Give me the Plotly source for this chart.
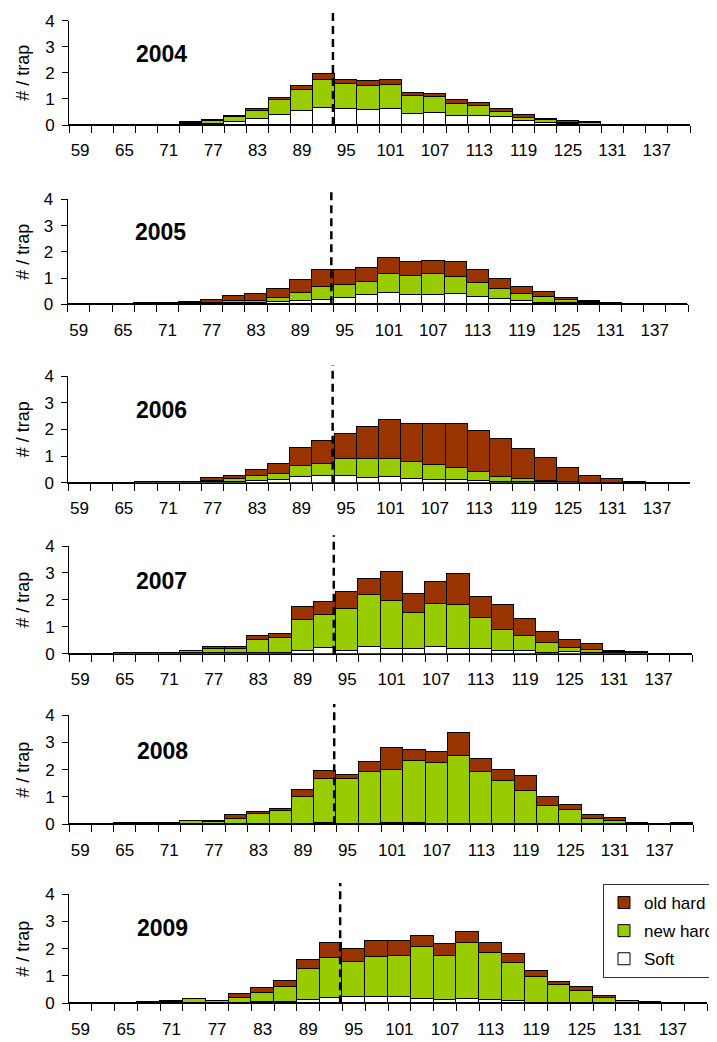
import plotly.graph_objects as go

# ---------------- data ----------------
sizes = [59, 62, 65, 68, 71, 74, 77, 80, 83, 86, 89, 92, 95, 98, 101, 104,
         107, 110, 113, 116, 119, 122, 125, 128, 131, 134, 137, 140]
tick_labels = ["59", "", "65", "", "71", "", "77", "", "83", "", "89", "", "95", "",
               "101", "", "107", "", "113", "", "119", "", "125", "", "131", "", "137", ""]
years = ["2004", "2005", "2006", "2007", "2008", "2009"]
cutoff_mm = 93.2

soft_2004 = [0, 0, 0.01, 0.01, 0.01, 0.04, 0.05, 0.13, 0.23, 0.38, 0.54, 0.68, 0.61, 0.58,
             0.63, 0.42, 0.47, 0.37, 0.37, 0.33, 0.17, 0.09, 0.05, 0.03, 0, 0, 0, 0]
new_2004 = [0, 0, 0.01, 0.01, 0.01, 0.05, 0.10, 0.19, 0.33, 0.58, 0.83, 1.07, 0.99, 0.93,
            0.93, 0.70, 0.60, 0.46, 0.37, 0.19, 0.12, 0.10, 0.05, 0.05, 0, 0, 0, 0]
old_2004 = [0, 0, 0.01, 0.01, 0.01, 0.04, 0.05, 0.03, 0.07, 0.09, 0.13, 0.21, 0.15, 0.18,
            0.17, 0.13, 0.12, 0.14, 0.13, 0.12, 0.11, 0.07, 0.05, 0.03, 0, 0, 0, 0]

soft_2005 = [0, 0, 0, 0.01, 0.01, 0.02, 0.02, 0.03, 0.04, 0.08, 0.10, 0.14, 0.24, 0.33,
             0.42, 0.36, 0.36, 0.37, 0.28, 0.19, 0.11, 0.04, 0.02, 0.02, 0.01, 0, 0, 0]
new_2005 = [0, 0, 0, 0.01, 0.01, 0.03, 0.03, 0.07, 0.09, 0.16, 0.31, 0.51, 0.50, 0.51,
            0.74, 0.71, 0.80, 0.66, 0.51, 0.37, 0.26, 0.23, 0.12, 0.04, 0.02, 0, 0, 0]
old_2005 = [0, 0, 0, 0.01, 0.01, 0.04, 0.11, 0.19, 0.26, 0.34, 0.49, 0.65, 0.56, 0.53,
            0.58, 0.53, 0.49, 0.57, 0.49, 0.38, 0.28, 0.19, 0.10, 0.04, 0.02, 0, 0, 0]

soft_2006 = [0, 0, 0, 0.01, 0.01, 0.01, 0.02, 0.03, 0.08, 0.10, 0.20, 0.25, 0.24, 0.19,
             0.23, 0.13, 0.11, 0.09, 0.06, 0.04, 0.02, 0.01, 0.01, 0, 0, 0, 0, 0]
new_2006 = [0, 0, 0, 0.01, 0.01, 0.01, 0.03, 0.11, 0.16, 0.21, 0.43, 0.44, 0.65, 0.70,
            0.67, 0.63, 0.57, 0.45, 0.34, 0.17, 0.12, 0.07, 0.02, 0, 0, 0, 0, 0]
old_2006 = [0, 0, 0, 0.01, 0.01, 0.01, 0.11, 0.11, 0.24, 0.39, 0.67, 0.86, 0.92, 1.20,
            1.46, 1.45, 1.53, 1.67, 1.54, 1.42, 1.11, 0.83, 0.52, 0.26, 0.14, 0.04, 0, 0]

soft_2007 = [0, 0, 0.01, 0.01, 0.01, 0.01, 0.02, 0.02, 0.03, 0.04, 0.10, 0.20, 0.10, 0.24,
             0.17, 0.17, 0.25, 0.16, 0.16, 0.11, 0.09, 0.02, 0.06, 0.02, 0.02, 0.01, 0, 0]
new_2007 = [0, 0, 0.01, 0.01, 0.01, 0.09, 0.14, 0.14, 0.49, 0.53, 1.15, 1.22, 1.56, 1.93,
            1.77, 1.35, 1.58, 1.64, 1.18, 0.77, 0.55, 0.39, 0.14, 0.13, 0.04, 0.02, 0, 0]
old_2007 = [0, 0, 0.01, 0.01, 0.01, 0.01, 0.09, 0.09, 0.14, 0.17, 0.47, 0.50, 0.62, 0.60,
            1.09, 0.68, 0.84, 1.16, 0.78, 0.92, 0.65, 0.38, 0.32, 0.22, 0.05, 0.02, 0, 0]

soft_2008 = [0, 0, 0.01, 0.01, 0.01, 0.01, 0.01, 0.01, 0.01, 0.01, 0.01, 0.06, 0.01, 0.02,
             0.03, 0.03, 0.01, 0.01, 0.01, 0.01, 0.01, 0.01, 0.01, 0.01, 0.02, 0.01, 0, 0.01]
new_2008 = [0, 0, 0.01, 0.01, 0.01, 0.11, 0.08, 0.20, 0.38, 0.48, 0.98, 1.59, 1.66, 1.88,
            1.95, 2.29, 2.22, 2.48, 1.90, 1.59, 1.21, 0.66, 0.50, 0.19, 0.11, 0.02, 0, 0.02]
old_2008 = [0, 0, 0.01, 0.01, 0.01, 0.01, 0.04, 0.12, 0.06, 0.06, 0.25, 0.30, 0.15, 0.37,
            0.80, 0.39, 0.43, 0.86, 0.49, 0.39, 0.55, 0.33, 0.19, 0.13, 0.11, 0.02, 0, 0.02]

soft_2009 = [0, 0, 0, 0.01, 0.02, 0.01, 0.01, 0.02, 0.03, 0.05, 0.13, 0.18, 0.23, 0.22,
             0.22, 0.17, 0.13, 0.17, 0.13, 0.07, 0.02, 0.02, 0.02, 0.01, 0.01, 0.01, 0, 0]
new_2009 = [0, 0, 0, 0.01, 0.04, 0.13, 0.08, 0.19, 0.36, 0.54, 1.13, 1.47, 1.27, 1.46,
            1.52, 1.89, 1.61, 2.04, 1.70, 1.39, 0.96, 0.64, 0.44, 0.20, 0.08, 0.02, 0, 0]
old_2009 = [0, 0, 0, 0.01, 0.02, 0.01, 0.01, 0.12, 0.16, 0.23, 0.33, 0.57, 0.49, 0.61,
            0.55, 0.42, 0.42, 0.41, 0.38, 0.33, 0.19, 0.13, 0.13, 0.05, 0.01, 0, 0, 0]

soft = [soft_2004, soft_2005, soft_2006, soft_2007, soft_2008, soft_2009]
new_hard = [new_2004, new_2005, new_2006, new_2007, new_2008, new_2009]
old_hard = [old_2004, old_2005, old_2006, old_2007, old_2008, old_2009]

# ---------------- layout geometry (page pixels) ----------------
PAGE_W, PAGE_H = 717, 1042
OFF = 8  # default body margin of the html page
W, H = PAGE_W - OFF, PAGE_H - OFF
# (left, right, top of y=4, baseline y=0) in page pixels
panels = [(69, 690, 20.7, 125.0),
          (67.7, 688, 199.3, 304.3),
          (68.3, 690.3, 376, 482.7),
          (69, 692, 546, 653.7),
          (69, 693, 715, 824.3),
          (69, 707, 894, 1003.3)]
year_pos = [(161, 54), (160, 232), (161, 410), (161, 581), (162.5, 751), (162.5, 928)]


def px(x):
    return (x - OFF) / W


def py(y):
    return 1 - (y - OFF) / H


FONT = "Liberation Sans, Arial, sans-serif"
C_OLD = "#993300"
C_NEW = "#99CC00"
C_SOFT = "#FFFFFF"

cats = [str(s) for s in sizes]
fig = go.Figure()
layout = dict(
    width=W, height=H,
    margin=dict(l=0, r=0, t=0, b=0, autoexpand=False),
    paper_bgcolor="white", plot_bgcolor="white",
    barmode="stack", bargap=0,
    font=dict(family=FONT, color="black"),
    showlegend=True,
    legend=dict(x=px(603), y=py(884), xanchor="left", yanchor="top",
                bgcolor="white", bordercolor="#333333", borderwidth=1,
                font=dict(size=17, family=FONT, color="black"),
                tracegroupgap=3, itemwidth=30),
    shapes=[], annotations=[],
)

cut_idx = (cutoff_mm - sizes[0]) / (sizes[1] - sizes[0])

for k, yr in enumerate(years):
    n = k + 1
    xa = "x" if n == 1 else f"x{n}"
    ya = "y" if n == 1 else f"y{n}"
    series = [("Soft", soft[k], C_SOFT, 3), ("new hard", new_hard[k], C_NEW, 2),
              ("old hard", old_hard[k], C_OLD, 1)]
    for name, vals, col, rank in series:
        fig.add_trace(go.Bar(
            x=cats, y=vals, name=name, xaxis=xa, yaxis=ya,
            marker=dict(color=col, line=dict(color="black", width=1)),
            showlegend=(k == 5), legendgroup=name, legendrank=rank,
            hoverinfo="skip"))
    l, r, t, b = panels[k]
    layout[f"xaxis{'' if n == 1 else n}"] = dict(
        domain=[px(l), px(r)], anchor=ya, type="category",
        categoryorder="array", categoryarray=cats,
        range=[-0.5, len(cats) - 0.5],
        tickmode="array", tickvals=cats, ticktext=tick_labels, tickangle=0,
        tickson="boundaries", ticks="outside", ticklen=7, tickwidth=1,
        tickcolor="black", showline=True, linecolor="black", linewidth=1,
        showgrid=False, zeroline=False, ticklabelstandoff=10,
        tickfont=dict(size=17, family=FONT, color="black"), fixedrange=True)
    layout[f"yaxis{'' if n == 1 else n}"] = dict(
        domain=[py(b), py(t)], anchor=xa, range=[0, 4],
        tickvals=[0, 1, 2, 3, 4], ticks="outside", ticklen=6, tickwidth=1,
        tickcolor="black", showline=True, linecolor="black", linewidth=1,
        showgrid=False, zeroline=False, ticklabelstandoff=4,
        tickfont=dict(size=17, family=FONT, color="black"), fixedrange=True)
    layout["shapes"].append(dict(
        type="line", xref=xa, yref=f"{ya} domain", x0=cut_idx, x1=cut_idx,
        y0=0, y1=1.1, line=dict(color="black", width=2.5, dash="8px,5px"),
        layer="above"))
    layout["annotations"].append(dict(
        text="# / trap", textangle=-90, xref="paper", yref="paper",
        x=px(23), y=py((t + b) / 2), showarrow=False,
        font=dict(size=18, family=FONT, color="black"),
        xanchor="center", yanchor="middle"))
    xp, yp = year_pos[k]
    layout["annotations"].append(dict(
        text=f"<b>{yr}</b>", xref="paper", yref="paper",
        x=px(xp), y=py(yp), showarrow=False,
        font=dict(size=23, family=FONT, color="black"),
        xanchor="center", yanchor="middle"))

fig.update_layout(**layout)
fig.write_html("out.html")
